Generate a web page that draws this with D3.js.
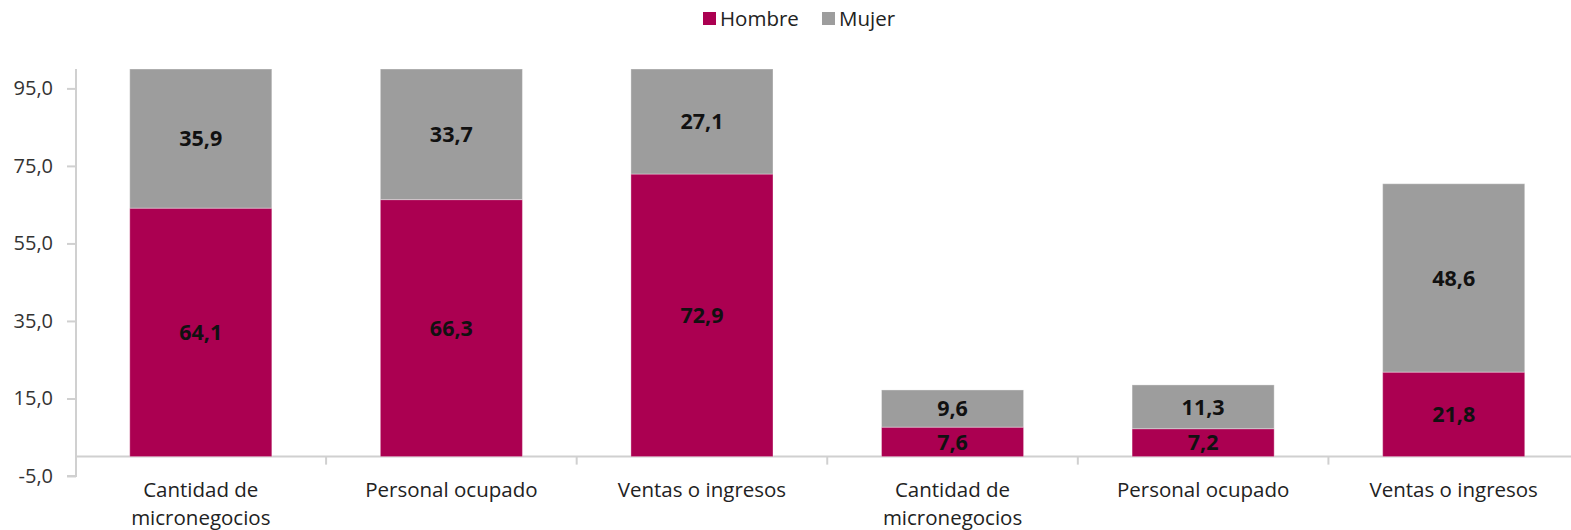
<!DOCTYPE html>
<html>
<meta charset="utf-8">
<head>
    <script src="https://d3js.org/d3.v7.min.js"></script>
    <style>
        body { margin: 0; background: #fff; }
        text { font-family: "Open Sans", "Noto Sans", sans-serif; }
    </style>
</head>
<body>
    <script>
        var width = 1571,
            height = 530;

        var categories = ["Cantidad de micronegocios", "Personal ocupado", "Ventas o ingresos",
                          "Cantidad de micronegocios", "Personal ocupado", "Ventas o ingresos"];
        var hombre = [64.1, 66.3, 72.9, 7.6, 7.2, 21.8];
        var mujer = [35.9, 33.7, 27.1, 9.6, 11.3, 48.6];
        var yTicks = [-5, 15, 35, 55, 75, 95];
        var seriesNames = ["Hombre", "Mujer"];
        var colors = ["#ab0051", "#9d9d9d"];

        var svg = d3.select("body").append("svg")
            .attr("width", width)
            .attr("height", height);

        var x = d3.scaleBand()
            .domain(d3.range(categories.length))
            .range([75.5, 1579])
            .paddingInner(0.433)
            .paddingOuter(0.2165);

        var y = d3.scaleLinear()
            .domain([-5, 100])
            .range([476, 69]);

        // comma decimals, plain hyphen for negatives
        var fmt = function(v) { return d3.format(".1f")(v).replace(".", ",").replace("\u2212", "-"); };

        // y axis
        var yAxis = svg.append("g")
            .attr("transform", "translate(76,0)")
            .call(d3.axisLeft(y).tickValues(yTicks).tickSize(9).tickPadding(14).tickFormat(fmt));
        yAxis.select(".domain").attr("stroke", "#d0d0d0").attr("stroke-width", 2)
            .attr("d", "M0," + y(100) + "V" + y(-5) + "H-9");
        yAxis.selectAll(".tick line").attr("stroke", "#d0d0d0").attr("stroke-width", 2);
        yAxis.selectAll(".tick text").attr("font-size", 20).attr("fill", "#333")
            .attr("font-family", "'Open Sans', sans-serif");

        // x axis line at zero
        var step = x.step();
        svg.append("line")
            .attr("x1", 76).attr("x2", width)
            .attr("y1", y(0)).attr("y2", y(0))
            .attr("stroke", "#d0d0d0").attr("stroke-width", 2);
        svg.selectAll(".cat-tick")
            .data(d3.range(1, categories.length))
            .enter().append("line")
            .attr("class", "cat-tick")
            .attr("x1", function(i) { return x(i) - x.paddingInner() * step / 2; })
            .attr("x2", function(i) { return x(i) - x.paddingInner() * step / 2; })
            .attr("y1", y(0)).attr("y2", y(0) + 8)
            .attr("stroke", "#d0d0d0").attr("stroke-width", 2);

        // stacked bars
        var rows = categories.map(function(c, i) { return { i: i, Hombre: hombre[i], Mujer: mujer[i] }; });
        var stack = d3.stack().keys(seriesNames)(rows);

        var layer = svg.selectAll(".layer")
            .data(stack)
            .enter().append("g")
            .attr("fill", function(d, k) { return colors[k]; });

        layer.selectAll("rect")
            .data(function(d) { return d; })
            .enter().append("rect")
            .attr("x", function(d) { return x(d.data.i); })
            .attr("width", x.bandwidth())
            .attr("y", function(d) { return y(d[1]); })
            .attr("height", function(d) { return y(d[0]) - y(d[1]); })
            .attr("stroke", "#ffffff")
            .attr("stroke-opacity", 0.35)
            .attr("stroke-width", 1);

        layer.selectAll("text")
            .data(function(d) { return d; })
            .enter().append("text")
            .attr("x", function(d) { return x(d.data.i) + x.bandwidth() / 2; })
            .attr("y", function(d) { return (y(d[0]) + y(d[1])) / 2; })
            .attr("dy", "0.36em")
            .attr("text-anchor", "middle")
            .attr("font-size", 21.5)
            .attr("font-weight", "bold")
            .attr("fill", "#111")
            .text(function(d) { return fmt(d[1] - d[0]); });

        // category labels
        var catLabels = svg.selectAll(".cat")
            .data(categories)
            .enter().append("text")
            .attr("class", "cat")
            .attr("text-anchor", "middle")
            .attr("font-size", 20.5)
            .attr("fill", "#222")
            .attr("x", function(d, i) { return x(i) + x.bandwidth() / 2; })
            .attr("y", 497);
        catLabels.each(function(d) {
            var t = d3.select(this);
            var parts = d === "Cantidad de micronegocios" ? ["Cantidad de", "micronegocios"] : [d];
            parts.forEach(function(p, j) {
                t.append("tspan")
                    .attr("x", t.attr("x"))
                    .attr("dy", j === 0 ? 0 : 28)
                    .text(p);
            });
        });

        // legend
        var legend = svg.append("g");
        var legX = [703, 822];
        seriesNames.forEach(function(name, k) {
            legend.append("rect")
                .attr("x", legX[k]).attr("y", 12)
                .attr("width", 13).attr("height", 13)
                .attr("fill", colors[k]);
            legend.append("text")
                .attr("x", legX[k] + 17).attr("y", 26)
                .attr("font-size", 20.5)
                .attr("fill", "#222")
                .text(name);
        });
    </script>
</body>
</html>
